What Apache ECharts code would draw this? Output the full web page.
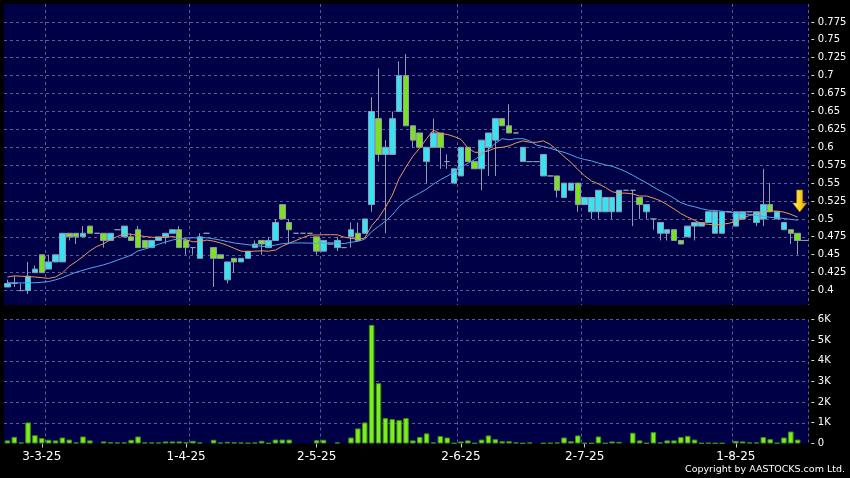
<!DOCTYPE html>
<html><head><meta charset="utf-8">
<script src="https://cdn.jsdelivr.net/npm/echarts@6/dist/echarts.min.js"></script>
<style>html,body{margin:0;padding:0;background:#000;}#c{width:850px;height:478px;}</style>
</head><body><div id="c"></div>
<script>
// ---- data ----
const opens  = [0.405,0.41,0.40,0.40,0.425,0.45,0.43,0.44,0.44,0.48,0.48,0.475,0.49,0.48,0.48,0.47,0.485,0.475,0.475,0.485,
  0.47,0.46,0.47,0.475,0.48,0.485,0.47,0.46,0.445,0.48,0.46,0.45,0.415,0.445,0.44,0.445,0.46,0.47,0.46,0.47,
  0.52,0.495,0.48,0.48,0.48,0.475,0.455,0.465,0.46,0.46,0.475,0.48,0.48,0.52,0.64,0.59,0.59,0.65,0.70,0.63,
  0.62,0.58,0.60,0.62,0.58,0.55,0.56,0.60,0.58,0.57,0.60,0.61,0.64,0.63,0.62,0.58,0.58,0.58,0.56,0.56,
  0.56,0.53,0.54,0.55,0.52,0.51,0.51,0.51,0.51,0.51,0.54,0.54,0.53,0.51,0.50,0.48,0.48,0.485,0.47,0.475,
  0.49,0.49,0.495,0.48,0.48,0.51,0.49,0.50,0.51,0.495,0.50,0.52,0.50,0.485,0.485,0.48];
const closes = [0.41,0.41,0.40,0.42,0.43,0.425,0.44,0.45,0.48,0.475,0.475,0.48,0.48,0.48,0.47,0.48,0.485,0.49,0.47,0.46,
  0.46,0.47,0.475,0.48,0.485,0.46,0.46,0.46,0.475,0.48,0.445,0.445,0.44,0.44,0.445,0.455,0.465,0.465,0.47,0.495,
  0.50,0.485,0.48,0.48,0.48,0.455,0.47,0.465,0.47,0.46,0.485,0.47,0.50,0.65,0.59,0.60,0.64,0.70,0.63,0.61,
  0.60,0.60,0.62,0.60,0.58,0.57,0.60,0.58,0.57,0.61,0.62,0.64,0.63,0.62,0.62,0.60,0.58,0.58,0.59,0.56,
  0.54,0.55,0.55,0.52,0.53,0.53,0.54,0.53,0.53,0.54,0.54,0.54,0.52,0.52,0.50,0.495,0.485,0.47,0.465,0.49,
  0.495,0.495,0.51,0.51,0.51,0.51,0.51,0.51,0.51,0.51,0.52,0.51,0.51,0.495,0.48,0.47];
const lows   = [0.405,0.405,0.40,0.395,0.425,0.425,0.43,0.44,0.44,0.47,0.465,0.475,0.48,0.48,0.46,0.47,0.485,0.475,0.47,0.46,
  0.46,0.46,0.47,0.465,0.48,0.46,0.45,0.45,0.445,0.48,0.405,0.445,0.41,0.425,0.44,0.445,0.46,0.45,0.46,0.47,
  0.50,0.465,0.48,0.48,0.48,0.45,0.455,0.465,0.455,0.46,0.46,0.47,0.48,0.51,0.58,0.48,0.59,0.65,0.63,0.60,
  0.60,0.55,0.60,0.57,0.57,0.55,0.56,0.58,0.57,0.54,0.56,0.56,0.63,0.62,0.62,0.58,0.58,0.58,0.56,0.56,
  0.53,0.53,0.54,0.51,0.52,0.50,0.50,0.51,0.50,0.51,0.54,0.49,0.50,0.50,0.485,0.47,0.47,0.47,0.465,0.475,
  0.47,0.49,0.495,0.48,0.48,0.51,0.49,0.50,0.51,0.49,0.49,0.51,0.50,0.485,0.465,0.45];
const highs  = [0.415,0.42,0.41,0.44,0.435,0.45,0.45,0.45,0.48,0.48,0.48,0.49,0.49,0.48,0.48,0.48,0.485,0.49,0.48,0.49,
  0.47,0.47,0.475,0.48,0.485,0.49,0.47,0.46,0.48,0.48,0.46,0.45,0.44,0.445,0.445,0.455,0.47,0.47,0.475,0.50,
  0.52,0.50,0.48,0.48,0.48,0.475,0.47,0.465,0.475,0.46,0.495,0.495,0.50,0.67,0.71,0.61,0.65,0.72,0.73,0.63,
  0.62,0.60,0.64,0.62,0.59,0.57,0.60,0.60,0.58,0.61,0.62,0.64,0.64,0.66,0.62,0.60,0.58,0.58,0.59,0.56,
  0.56,0.55,0.55,0.55,0.53,0.53,0.54,0.53,0.53,0.54,0.54,0.54,0.53,0.52,0.50,0.495,0.485,0.485,0.47,0.49,
  0.495,0.495,0.51,0.51,0.51,0.51,0.51,0.51,0.51,0.51,0.57,0.55,0.51,0.495,0.485,0.48];
// volume in thousands (K)
const volumes = [0.15,0.32,0.05,1.02,0.40,0.26,0.18,0.15,0.29,0.19,0.05,0.34,0.15,0,0.10,0.06,0.05,0.05,0.18,0.34,
  0.05,0.05,0.05,0.10,0.10,0.10,0.06,0.13,0.05,0,0.18,0.05,0.08,0.06,0.05,0.03,0.05,0.13,0.02,0.19,
  0.19,0.19,0,0,0,0.16,0.18,0,0.05,0,0.29,0.73,1.02,5.74,2.92,1.23,1.18,1.13,1.23,0.15,
  0.32,0.49,0.05,0.36,0.29,0.02,0.10,0.15,0.02,0.19,0.39,0.21,0.11,0.11,0.05,0.02,0.05,0,0.02,0.03,
  0.05,0.29,0.11,0.39,0.02,0.02,0.34,0.02,0.10,0.08,0,0.52,0.15,0.02,0.55,0.05,0.15,0.15,0.31,0.37,
  0.19,0.02,0.03,0.02,0.02,0,0.13,0.10,0.05,0.05,0.31,0.21,0.03,0.29,0.58,0.19];
const ma10Head = [0.419,0.4205,0.420,0.4195,0.419,0.418,0.417,0.419,0.4245];
const ma20Head = [0.411,0.411,0.4107,0.4107,0.411,0.4116,0.4126,0.415,0.418,0.422,0.4256,0.4284,0.4312,0.4335,0.436,0.439,0.4425,0.446,0.4495];
const tickLabels = ['3-3-25','1-4-25','2-5-25','2-6-25','2-7-25','1-8-25'];
const tickLabelIndex = [5,26,45,66,84,106];
const monthStartIndex = [6,27,46,66,84,106];
const lastArrowPrice = 0.525;

// ---- build ----
const N = closes.length;
const cats = Array.from({length: N + 1}, (_, i) => String(i));
const candle = opens.map((o, i) => [o, closes[i], lows[i], highs[i]]);
candle.push('-');
function sma(period, head) {
  const out = [];
  for (let i = 0; i < N; i++) {
    if (i < period - 1) { out.push(head[i]); continue; }
    let s = 0;
    for (let k = i - period + 1; k <= i; k++) s += closes[k];
    out.push(+(s / period).toFixed(5));
  }
  out.push('-');
  return out;
}
const ma10 = sma(10, ma10Head);
const ma20 = sma(20, ma20Head);
const vol = volumes.map(v => v === 0 ? '-' : v); vol.push('-');

const NAVY = '#000046';
const GRIDC = '#5c5c8e';
const FONT = 'DejaVu Sans';
const splitX = {show: true, interval: (i) => monthStartIndex.includes(i), lineStyle: {color: GRIDC, type: [3, 3], width: 1}};
const splitY = {show: true, showMinLine: false, showMaxLine: false, lineStyle: {color: GRIDC, type: [3, 3], width: 1}};

const chart = echarts.init(document.getElementById('c'), null, {renderer: 'canvas'});
chart.setOption({
  animation: false,
  backgroundColor: '#000',
  grid: [
    {left: 4, width: 804, top: 4, height: 304.5, show: true, backgroundColor: NAVY, borderWidth: 0},
    {left: 4, width: 804, top: 319.5, height: 124, show: true, backgroundColor: NAVY, borderWidth: 0}
  ],
  xAxis: [
    {type: 'category', gridIndex: 0, data: cats, boundaryGap: true, axisLine: {show: false}, axisTick: {show: false},
     axisLabel: {show: false}, splitLine: splitX},
    {type: 'category', gridIndex: 1, data: cats, boundaryGap: true, axisLine: {show: false},
     axisTick: {show: true, alignWithLabel: true, length: 4, interval: (i) => tickLabelIndex.includes(i), lineStyle: {color: '#cccccc'}},
     axisLabel: {show: true, interval: (i) => tickLabelIndex.includes(i), color: '#ffffff', fontFamily: FONT, fontSize: 12, margin: 7,
       formatter: (v, i) => { const k = tickLabelIndex.indexOf(i); return k >= 0 ? tickLabels[k] : ''; }},
     splitLine: splitX}
  ],
  yAxis: [
    {type: 'value', gridIndex: 0, position: 'right', min: 0.375, max: 0.8, interval: 0.025, scale: true,
     axisLine: {show: false}, axisTick: {show: false}, splitLine: splitY,
     axisLabel: {show: true, showMinLabel: false, showMaxLabel: false, color: '#ffffff', fontFamily: FONT, fontSize: 10, margin: 3,
       formatter: v => '- ' + String(parseFloat(v.toFixed(3)))}},
    {type: 'value', gridIndex: 1, position: 'right', min: 0, max: 6, interval: 1,
     axisLine: {show: false}, axisTick: {show: false}, splitLine: {show: true, showMinLine: false, showMaxLine: true, lineStyle: {color: GRIDC, type: [3, 3], width: 1}},
     axisLabel: {show: true, color: '#ffffff', fontFamily: FONT, fontSize: 10, margin: 3,
       formatter: v => '- ' + (v === 0 ? '0' : v + 'K')}}
  ],
  series: [
    {type: 'candlestick', xAxisIndex: 0, yAxisIndex: 0, data: candle, barWidth: 6, z: 3,
     itemStyle: {color: '#35e3f2', color0: '#7be21e', borderColor: '#8f9bb0', borderColor0: '#8f9bb0', borderColorDoji: '#8f9bb0', borderWidth: 1},
     markPoint: {silent: true, label: {show: false}, data: [
       {coord: [String(N - 1), lastArrowPrice], symbol: 'path://M4,0 L10,0 L10,13 L14,13 L7,22 L0,13 L4,13 Z', symbolSize: [14, 22], symbolOffset: [2, 0],
        itemStyle: {color: new echarts.graphic.LinearGradient(0, 0, 1, 0, [{offset: 0, color: '#fff27a'}, {offset: 0.5, color: '#ffd21f'}, {offset: 1, color: '#e09a00'}]), borderColor: '#b07800', borderWidth: 0.6}},
       {coord: [String(N - 1), closes[N - 1]], symbol: 'rect', symbolSize: [8, 1], symbolOffset: [7, 0], itemStyle: {color: '#9aa4b4'}}
     ]}},
    {type: 'line', xAxisIndex: 0, yAxisIndex: 0, data: ma10, showSymbol: false, z: 4, lineStyle: {color: '#ee9558', width: 1}},
    {type: 'line', xAxisIndex: 0, yAxisIndex: 0, data: ma20, showSymbol: false, z: 4, lineStyle: {color: '#4fa8ea', width: 1}},
    {type: 'bar', xAxisIndex: 1, yAxisIndex: 1, data: vol, barWidth: 5.5,
     itemStyle: {color: '#7bef1c', borderColor: '#3f8f14', borderWidth: 1}}
  ],
  graphic: [
    {type: 'rect', z: 100, shape: {x: 0, y: 305, width: 850, height: 9}, style: {fill: '#000'}},
    {type: 'text', z: 100, right: 5, top: 465, style: {text: 'Copyright by AASTOCKS.com Ltd.', fill: '#ffffff', font: '9.5px "DejaVu Sans"'}}
  ]
});
</script></body></html>
